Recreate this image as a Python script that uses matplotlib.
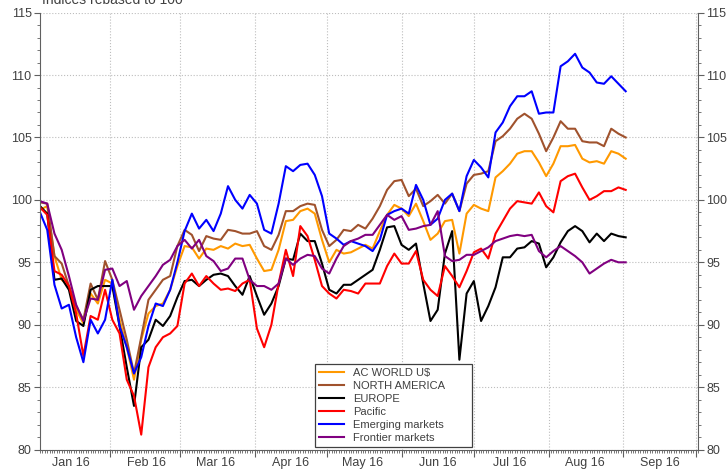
import numpy as np
import pandas as pd
import matplotlib
matplotlib.use('Agg')
import matplotlib.pyplot as plt
import matplotlib.dates as mdates
import matplotlib.ticker as ticker

plt.rcParams['font.family'] = ['Liberation Sans', 'DejaVu Sans']
plt.rcParams['font.size'] = 9

# sample dates, every third day
dates = pd.date_range('2016-01-03', periods=82, freq='3D')

ac_world = [99.2, 99.5, 95.5, 93.6, 93.1, 91.2, 90.1, 92.5, 91.7, 93.6,
            93.3, 90.4, 88.2, 85.6, 88.8, 90.9, 91.5, 91.7, 92.8, 94.7,
            96.3, 96.2, 95.3, 96.1, 96.0, 96.3, 96.1, 96.5, 96.3, 96.4,
            95.3, 94.3, 94.4, 96.0, 98.3, 98.4, 99.1, 99.3, 98.9, 96.8,
            95.0, 96.0, 95.7, 95.8, 96.1, 96.4, 96.1, 97.5, 98.8, 99.6,
            99.3, 98.7, 99.7, 98.3, 96.8, 97.3, 98.3, 98.4, 95.7, 98.9,
            99.6, 99.3, 99.1, 101.8, 102.3, 102.9, 103.7, 103.9, 103.9, 103.0,
            101.9, 102.9, 104.3, 104.3, 104.4, 103.3, 103.0, 103.1, 102.9, 103.9,
            103.7, 103.3]

north_america = [99.8, 99.7, 95.5, 94.9, 93.1, 91.5, 90.4, 93.3, 92.0, 95.1,
                 93.6, 91.2, 88.8, 86.1, 89.0, 92.0, 92.8, 93.6, 93.9, 96.3,
                 97.6, 97.2, 95.9, 97.1, 96.9, 96.8, 97.6, 97.5, 97.3, 97.3,
                 97.5, 96.3, 96.0, 97.2, 99.1, 99.1, 99.5, 99.7, 99.6, 97.6,
                 96.3, 96.8, 97.6, 97.5, 98.0, 97.7, 98.5, 99.5, 100.8, 101.5,
                 101.6, 100.3, 100.9, 99.5, 99.9, 100.4, 99.7, 100.5, 99.1, 101.3,
                 102.0, 102.1, 102.3, 104.7, 105.1, 105.7, 106.5, 106.9, 106.5, 105.3,
                 103.9, 105.0, 106.3, 105.7, 105.7, 104.7, 104.6, 104.6, 104.3, 105.7,
                 105.3, 105.0]

europe = [99.5, 98.9, 93.6, 93.7, 92.8, 90.3, 89.9, 92.8, 93.1, 93.1,
          93.1, 89.9, 86.6, 83.5, 88.2, 88.8, 90.4, 89.9, 90.7, 92.2,
          93.5, 93.6, 93.1, 93.6, 94.0, 94.1, 93.9, 93.1, 92.4, 93.9,
          92.3, 90.8, 91.7, 93.1, 95.3, 95.2, 97.3, 96.7, 96.7, 94.9,
          92.8, 92.5, 93.2, 93.2, 93.6, 94.0, 94.4, 96.0, 97.8, 97.9,
          96.4, 96.0, 96.5, 93.3, 90.3, 91.2, 95.7, 97.5, 87.2, 92.5,
          93.5, 90.3, 91.5, 93.0, 95.4, 95.4, 96.1, 96.2, 96.7, 96.5,
          94.6, 95.4, 96.6, 97.5, 97.9, 97.5, 96.6, 97.3, 96.7, 97.3,
          97.1, 97.0]

pacific = [99.4, 98.8, 94.3, 94.0, 93.1, 90.9, 87.5, 90.7, 90.4, 92.8,
           90.4, 89.3, 85.6, 84.3, 81.2, 86.6, 88.2, 89.0, 89.3, 89.9,
           93.3, 94.1, 93.1, 93.9, 93.3, 92.8, 92.9, 92.7, 93.3, 93.6,
           89.7, 88.2, 90.0, 93.3, 96.0, 93.9, 97.9, 97.1, 95.2, 93.1,
           92.5, 92.1, 92.8, 92.7, 92.5, 93.3, 93.3, 93.3, 94.7, 95.7,
           94.9, 94.9, 95.9, 93.6, 92.8, 92.3, 94.7, 93.9, 93.0, 94.3,
           95.8, 96.1, 95.3, 97.3, 98.3, 99.3, 99.9, 99.8, 99.7, 100.6,
           99.5, 99.0, 101.5, 101.9, 102.1, 101.0, 100.0, 100.3, 100.7, 100.7,
           101.0, 100.8]

emerging = [99.0, 97.6, 93.2, 91.3, 91.6, 89.0, 87.0, 90.4, 89.3, 90.4,
            93.6, 89.9, 88.2, 86.1, 87.4, 89.9, 91.7, 91.5, 92.8, 95.0,
            97.5, 98.9, 97.7, 98.4, 97.5, 98.9, 101.1, 100.0, 99.3, 100.4,
            99.7, 97.6, 97.3, 99.7, 102.7, 102.3, 102.8, 102.9, 102.0, 100.3,
            97.3, 96.9, 96.4, 96.7, 96.5, 96.3, 95.9, 96.8, 98.8, 99.1,
            99.3, 98.9, 101.2, 100.0, 98.0, 98.5, 100.0, 100.5, 99.1, 101.9,
            103.2, 102.6, 101.8, 105.4, 106.2, 107.5, 108.3, 108.3, 108.7, 106.9,
            107.0, 107.0, 110.7, 111.1, 111.7, 110.6, 110.2, 109.4, 109.3, 109.9,
            109.3, 108.7]

frontier = [99.9, 99.7, 97.3, 96.0, 93.9, 91.6, 90.3, 92.1, 92.0, 94.4,
            94.5, 93.1, 93.5, 91.2, 92.3, 93.1, 93.9, 94.8, 95.2, 96.3,
            96.8, 96.1, 96.8, 95.5, 95.1, 94.3, 94.5, 95.3, 95.3, 93.6,
            93.1, 93.1, 92.8, 93.3, 95.3, 94.8, 95.3, 95.6, 95.5, 94.5,
            94.1, 95.3, 96.3, 96.7, 96.9, 97.2, 97.2, 98.0, 98.8, 98.4,
            98.7, 97.6, 97.7, 97.9, 98.0, 99.1, 95.5, 95.1, 95.2, 95.6,
            95.6, 95.9, 96.2, 96.7, 96.9, 97.1, 97.2, 97.1, 97.2, 95.9,
            95.4, 95.9, 96.3, 95.9, 95.5, 95.0, 94.1, 94.5, 94.9, 95.2,
            95.0, 95.0]

series_names = ['AC WORLD U$', 'NORTH AMERICA', 'EUROPE', 'Pacific',
                'Emerging markets', 'Frontier markets']
series_colours = ['#FF9900', '#A0522D', '#000000', '#FF0000', '#0000FF', '#800080']
month_labels = ['Jan 16', 'Feb 16', 'Mar 16', 'Apr 16', 'May 16',
                'Jun 16', 'Jul 16', 'Aug 16', 'Sep 16']

fig = plt.figure(figsize=(7.27, 4.76), dpi=100)
ax = fig.add_axes([40 / 727, 1 - 449.6 / 476, 658 / 727, 437 / 476])

all_series = [ac_world, north_america, europe, pacific, emerging, frontier]
for vals, name, col in zip(all_series, series_names, series_colours):
    ax.plot(dates, vals, color=col, linewidth=1.5, label=name)

ax.set_xlim(pd.Timestamp('2016-01-03'), pd.Timestamp('2016-10-02'))
ax.set_ylim(80, 115)

ax.xaxis.set_major_locator(mdates.MonthLocator())
ax.xaxis.set_major_formatter(ticker.NullFormatter())
ax.xaxis.set_minor_locator(mdates.DayLocator())
ax.yaxis.set_major_locator(ticker.MultipleLocator(5))
ax.yaxis.set_minor_locator(ticker.MultipleLocator(1))

ax.tick_params(axis='x', which='major', length=5, color='#606060')
ax.tick_params(axis='x', which='minor', length=2.5, color='#606060')
ax.tick_params(axis='y', which='both', left=True, right=True,
               labelleft=True, labelright=True, color='#606060',
               labelcolor='#404040', labelsize=9, pad=2)
ax.tick_params(axis='y', which='major', length=4)
ax.tick_params(axis='y', which='minor', length=2.5)

ax.grid(which='major', linestyle=':', color='#bdbdbd', linewidth=0.8)

for side in ['left', 'right', 'bottom']:
    ax.spines[side].set_color('#606060')
ax.spines['top'].set_visible(False)

# month names in the middle of each month
trans = ax.get_xaxis_transform()
for m, lab in enumerate(month_labels, start=1):
    ax.text(pd.Timestamp(2016, m, 16), -0.018, lab, transform=trans,
            ha='center', va='top', color='#404040', fontsize=9)

fig.text(0.058, 1 - 4 / 476, 'Indices rebased to 100', ha='left',
         va='baseline', color='#404040', fontsize=10)

leg = ax.legend(loc='lower left', bbox_to_anchor=(0.4178, 0.0066, 0.2383, 0.187),
                mode='expand', fontsize=8, frameon=True, fancybox=False,
                framealpha=1, labelspacing=0.26, handlelength=2.3,
                handletextpad=0.8, borderpad=0.35, borderaxespad=0)
leg.get_frame().set_edgecolor('#404040')
leg.get_frame().set_linewidth(0.9)
for t in leg.get_texts():
    t.set_color('#404040')

fig.savefig('out.png', dpi=100)
